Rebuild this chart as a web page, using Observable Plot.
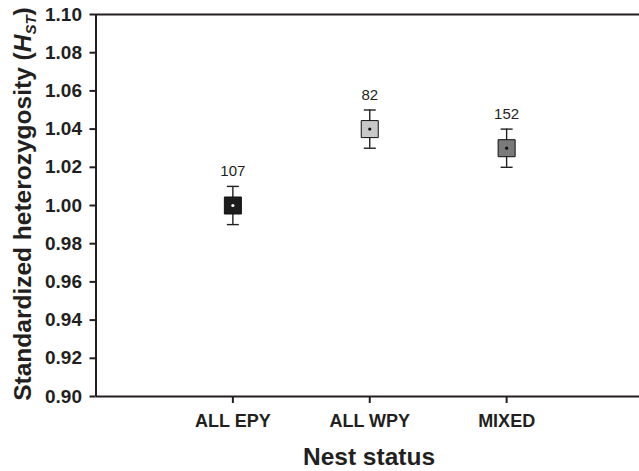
<!DOCTYPE html>
<html>
<head>
<meta charset="utf-8">
<script src="https://cdn.jsdelivr.net/npm/d3@7"></script>
<script src="https://cdn.jsdelivr.net/npm/@observablehq/plot@0.6"></script>
<style>
  html, body { margin: 0; padding: 0; background: #fff; overflow: hidden; }
  #chart svg { display: block; }
</style>
</head>
<body>
<div id="chart"></div>
<script>
const categories = ["ALL EPY", "ALL WPY", "MIXED"];
const means = [1.00, 1.04, 1.03];
const lower = [0.99, 1.03, 1.02];
const upper = [1.01, 1.05, 1.04];
const sampleSizes = [107, 82, 152];
const boxFills = ["#1c1c1c", "#c8c8c8", "#7a7a7a"];
const centerFills = ["#ffffff", "#111111", "#111111"];
const yTicks = [0.90, 0.92, 0.94, 0.96, 0.98, 1.00, 1.02, 1.04, 1.06, 1.08, 1.10];

const data = categories.map((c, i) => ({
  pos: i + 1, category: c, mean: means[i], lo: lower[i], hi: upper[i],
  n: sampleSizes[i], fill: boxFills[i], center: centerFills[i]
}));

const capSymbol = {
  draw(context, size) {
    const r = Math.sqrt(size / Math.PI);
    context.moveTo(-r, 0);
    context.lineTo(r, 0);
  }
};

const ink = "#231f20";

const plot = Plot.plot({
  width: 639,
  height: 471,
  marginLeft: 95.5,
  marginRight: 0,
  marginTop: 14,
  marginBottom: 75,
  x: {domain: [0, 4], range: [95.5, 643], axis: null},
  y: {domain: [0.9, 1.1], axis: null},
  style: {fontFamily: "'Liberation Sans', Arial, sans-serif", fontSize: "18px", fontWeight: "bold", color: ink, background: "#fff"},
  marks: [
    Plot.axisY(yTicks, {tickSize: 6, tickPadding: 8, tickFormat: d => d.toFixed(2), strokeWidth: 2, fontSize: 19, label: null}),
    Plot.axisX([1, 2, 3], {tickSize: 7, tickPadding: 11, tickFormat: i => categories[i - 1], strokeWidth: 2, fontSize: 18, label: null}),
    Plot.ruleY([0.9, 1.1], {stroke: ink, strokeWidth: 2}),
    Plot.ruleX([0], {stroke: ink, strokeWidth: 2}),
    Plot.ruleX(data, {x: "pos", y1: "lo", y2: "hi", stroke: ink, strokeWidth: 1.4}),
    Plot.dot(data, {x: "pos", y: "hi", symbol: capSymbol, r: 6, fill: "none", stroke: ink, strokeWidth: 1.4}),
    Plot.dot(data, {x: "pos", y: "lo", symbol: capSymbol, r: 6, fill: "none", stroke: ink, strokeWidth: 1.4}),
    Plot.dot(data, {x: "pos", y: "mean", symbol: "square", r: 9.6, fill: "fill", stroke: "#111", strokeWidth: 1}),
    Plot.dot(data, {x: "pos", y: "mean", r: 1.6, fill: "center", stroke: "none"}),
    Plot.text(data, {x: "pos", y: "hi", text: d => String(d.n), dy: -10, lineAnchor: "bottom", fontSize: 15, fontWeight: "normal", fill: ink})
  ]
});

const svg = d3.select(plot);
// y-axis title
const yt = svg.append("text")
  .attr("transform", "translate(31,204) rotate(-90)")
  .attr("text-anchor", "middle")
  .attr("fill", ink)
  .style("font-size", "24.5px")
  .style("font-weight", "bold");
yt.append("tspan").text("Standardized heterozygosity (");
yt.append("tspan").style("font-style", "italic").text("H");
yt.append("tspan").attr("dy", 5).style("font-size", "15px").style("font-style", "italic").text("ST");
yt.append("tspan").attr("dy", -5).text(")");
// x-axis title
svg.append("text")
  .attr("x", 369)
  .attr("y", 465)
  .attr("text-anchor", "middle")
  .attr("fill", ink)
  .style("font-size", "24.5px")
  .style("font-weight", "bold")
  .text("Nest status");

document.getElementById("chart").appendChild(plot);
</script>
</body>
</html>
